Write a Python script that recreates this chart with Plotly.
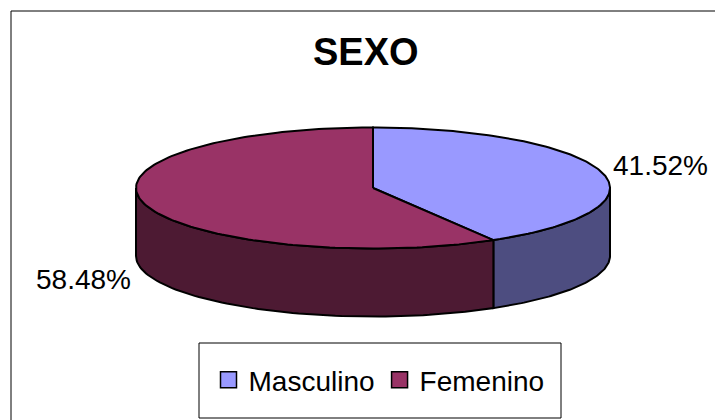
import numpy as np
import plotly.graph_objects as go

# ---- data ----
categories = ["Masculino", "Femenino"]
values = [41.52, 58.48]
label_texts = ["41.52%", "58.48%"]
top_colors = ["#9999FF", "#993366"]
side_colors = ["#4D4D80", "#4D1A33"]
title_text = "SEXO"

# ---- geometry (pixel-like axes) ----
W, H = 715, 420
cx, cy, rx, ry, depth = 373, 188, 237, 60.5, 68
FONT = "Arial, Liberation Sans, sans-serif"

total = sum(values)
fracs = [v / total for v in values]
starts = np.cumsum([0] + fracs[:-1]) * 360.0
ends = starts + np.array(fracs) * 360.0


def ell(theta_deg, dy=0.0):
    t = np.radians(theta_deg)
    return cx + rx * np.sin(t), cy - ry * np.cos(t) + dy


fig = go.Figure()

# sides (front-facing part: 90..270 deg, clockwise from top)
for i in range(len(values)):
    a = max(starts[i], 90.0)
    b = min(ends[i], 270.0)
    if b <= a:
        continue
    th = np.linspace(a, b, 80)
    xt, yt = ell(th)
    xb, yb = ell(th[::-1], depth)
    xs = np.concatenate([xt, xb, xt[:1]])
    ys = np.concatenate([yt, yb, yt[:1]])
    fig.add_trace(go.Scatter(x=xs, y=ys, mode="lines", fill="toself",
                             fillcolor=side_colors[i],
                             line=dict(color="black", width=2),
                             hoverinfo="skip", showlegend=False))

# top faces
for i in range(len(values)):
    th = np.linspace(starts[i], ends[i], 160)
    xt, yt = ell(th)
    xs = np.concatenate([[cx], xt, [cx]])
    ys = np.concatenate([[cy], yt, [cy]])
    fig.add_trace(go.Scatter(x=xs, y=ys, mode="lines", fill="toself",
                             fillcolor=top_colors[i],
                             line=dict(color="black", width=2),
                             hoverinfo="skip", showlegend=False))

# legend entries
for i, c in enumerate(categories):
    fig.add_trace(go.Scatter(x=[None], y=[None], mode="markers", name=c,
                             marker=dict(symbol="square", size=18, color=top_colors[i],
                                         line=dict(color="black", width=1.5))))

# percentage labels
fig.add_annotation(x=611, y=165, text=label_texts[0], showarrow=False,
                   xanchor="left", yanchor="middle",
                   font=dict(family=FONT, size=28, color="black"))
fig.add_annotation(x=133, y=279, text=label_texts[1], showarrow=False,
                   xanchor="right", yanchor="middle",
                   font=dict(family=FONT, size=28, color="black"))

# title
fig.add_annotation(x=366, y=52, text="<b>%s</b>" % title_text, showarrow=False,
                   xanchor="center", yanchor="middle",
                   font=dict(family=FONT, size=38, color="black"))

# chart border and legend box
fig.add_shape(type="rect", x0=11, y0=11, x1=W + 20, y1=H + 20,
              line=dict(color="black", width=1), layer="below")
fig.add_shape(type="rect", x0=199, y0=343, x1=561, y1=418,
              line=dict(color="black", width=1), layer="below")

fig.update_layout(
    width=W, height=H,
    margin=dict(l=0, r=0, t=0, b=0),
    paper_bgcolor="white", plot_bgcolor="white",
    xaxis=dict(range=[0, W], visible=False, fixedrange=True),
    yaxis=dict(range=[H, 0], visible=False, fixedrange=True),
    showlegend=True,
    legend=dict(orientation="h", x=379 / W, y=1 - 380 / H,
                xanchor="center", yanchor="middle",
                bgcolor="rgba(0,0,0,0)", borderwidth=0,
                font=dict(family=FONT, size=28, color="black"),
                itemclick=False, itemdoubleclick=False),
)

fig.write_html("out.html", config={"displayModeBar": False, "staticPlot": True})

# remove the browser's default body margin so the figure sits at (0, 0)
with open("out.html", "r", encoding="utf-8") as f:
    html = f.read()
html = html.replace("<body>", '<body style="margin:0;padding:0;overflow:hidden">', 1)
with open("out.html", "w", encoding="utf-8") as f:
    f.write(html)
